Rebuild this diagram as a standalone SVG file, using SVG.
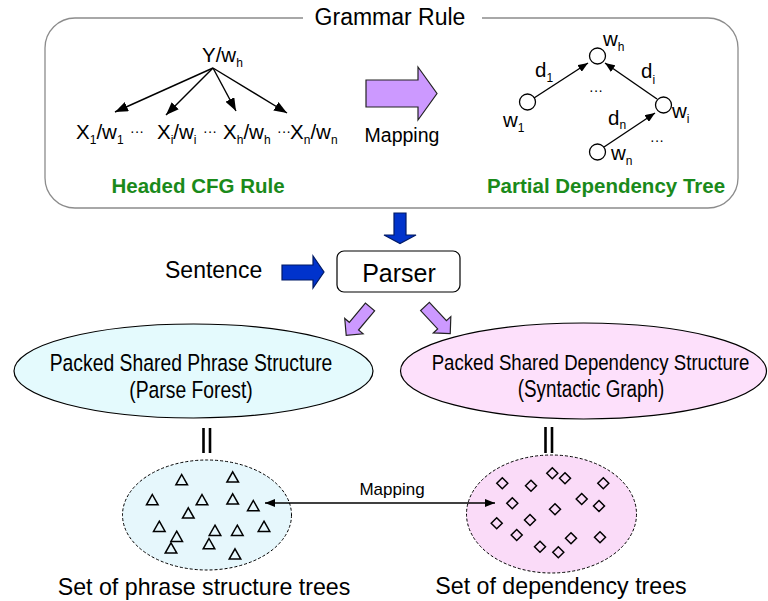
<svg xmlns="http://www.w3.org/2000/svg" width="768" height="601" viewBox="0 0 768 601">
<style>
.t{font-family:"Liberation Sans",Arial,Helvetica,sans-serif;fill:#000}
.g{font-family:"Liberation Sans",Arial,Helvetica,sans-serif;font-weight:bold;fill:#1a8a1a;font-size:20.5px}
.lbl{font-size:20.5px}
.sub{font-size:12px}
.dots{font-size:14px}
.ln{stroke:#000;stroke-width:1.4;fill:none}
.purple{fill:#cc99ff;stroke:#222;stroke-width:1.2}
.blue{fill:#0033cc;stroke:#001a66;stroke-width:1.2}
.tri{fill:none;stroke:#000;stroke-width:1.5}
</style>
<defs>
<marker id="big" markerWidth="13" markerHeight="10" refX="13" refY="5" orient="auto" markerUnits="userSpaceOnUse"><path d="M0,0 L13,5 L0,10 Z" fill="#000"/></marker>
<marker id="sm" markerWidth="10" markerHeight="8" refX="10" refY="4" orient="auto-start-reverse" markerUnits="userSpaceOnUse"><path d="M0,0 L10,4 L0,8 Z" fill="#000"/></marker>
<path id="tr" d="M0,-5.5 L5.8,4.8 L-5.8,4.8 Z" class="tri"/>
<path id="dm" d="M0,-5.5 L5.5,0 L0,5.5 L-5.5,0 Z" class="tri"/>
<path id="diag" d="M0,-6 H25 V-12 L37,0 L25,12 V6 H0 Z" class="purple"/>
</defs>

<g id="grammar-rule">
<path d="M303,18 H75 A30,30 0 0 0 45,48 V178 A30,30 0 0 0 75,208 H708 A30,30 0 0 0 738,178 V48 A30,30 0 0 0 708,18 H482" fill="none" stroke="#8c8c8c" stroke-width="1.3"/>
<text class="t" x="390" y="25" font-size="23" text-anchor="middle">Grammar Rule</text>
</g>

<g id="cfg-rule">
<text class="t lbl" x="202" y="62">Y/w<tspan class="sub" dy="5">h</tspan></text>
<text class="t lbl" x="76" y="139">X<tspan class="sub" dy="5">1</tspan><tspan dy="-5">/w</tspan><tspan class="sub" dy="5">1</tspan></text>
<text class="t dots" x="130" y="136">···</text>
<text class="t lbl" x="157" y="139">X<tspan class="sub" dy="5">i</tspan><tspan dy="-5">/w</tspan><tspan class="sub" dy="5">i</tspan></text>
<text class="t dots" x="203" y="136">···</text>
<text class="t lbl" x="223" y="139">X<tspan class="sub" dy="5">h</tspan><tspan dy="-5">/w</tspan><tspan class="sub" dy="5">h</tspan></text>
<text class="t dots" x="277" y="136">···</text>
<text class="t lbl" x="290" y="139">X<tspan class="sub" dy="5">n</tspan><tspan dy="-5">/w</tspan><tspan class="sub" dy="5">n</tspan></text>
<text class="g" x="198" y="193" text-anchor="middle">Headed CFG Rule</text>
</g>

<g id="mapping-arrow">
<path d="M366,80 H418 V67 L437,93.5 L418,120 V107 H366 Z" class="purple"/>
<text class="t" x="402" y="142" font-size="19.5" text-anchor="middle">Mapping</text>
</g>

<g id="dependency-tree">
<circle cx="597.5" cy="56" r="8" fill="#fff" stroke="#000" stroke-width="1.3"/>
<circle cx="527.5" cy="102" r="8" fill="#fff" stroke="#000" stroke-width="1.3"/>
<circle cx="663.5" cy="105" r="8" fill="#fff" stroke="#000" stroke-width="1.3"/>
<circle cx="597.5" cy="152" r="8" fill="#fff" stroke="#000" stroke-width="1.3"/>
<text class="t lbl" x="603" y="46">w<tspan class="sub" dy="5">h</tspan></text>
<text class="t lbl" x="535" y="77">d<tspan class="sub" dy="5">1</tspan></text>
<text class="t lbl" x="641" y="78">d<tspan class="sub" dy="6">i</tspan></text>
<text class="t dots" x="589" y="95">···</text>
<text class="t lbl" x="672" y="118">w<tspan class="sub" dy="5">i</tspan></text>
<text class="t lbl" x="503" y="127">w<tspan class="sub" dy="5">1</tspan></text>
<text class="t lbl" x="608" y="125">d<tspan class="sub" dy="4">n</tspan></text>
<text class="t dots" x="650" y="145">···</text>
<text class="t lbl" x="611" y="160">w<tspan class="sub" dy="5">n</tspan></text>
<text class="g" x="606" y="193" text-anchor="middle">Partial Dependency Tree</text>
</g>

<g id="sentence">
<text class="t" x="165" y="278" font-size="23">Sentence</text>
</g>

<g id="parser">
<rect x="337" y="251" width="123" height="41" rx="7" fill="#fff" stroke="#000" stroke-width="1.2"/>
<text class="t" x="399" y="281.5" font-size="25" text-anchor="middle">Parser</text>
</g>

<g id="phrase-structure">
<ellipse cx="193.5" cy="371" rx="179.5" ry="47" fill="#e4fafd" stroke="#000" stroke-width="1.2"/>
<text class="t" transform="translate(191,370.5) scale(0.83,1)" font-size="23.3" text-anchor="middle">Packed Shared Phrase Structure</text>
<text class="t" transform="translate(191,397.5) scale(0.83,1)" font-size="23.3" text-anchor="middle">(Parse Forest)</text>
</g>

<g id="dependency-structure">
<ellipse cx="583.5" cy="371" rx="183" ry="48" fill="#fde0fb" stroke="#000" stroke-width="1.2"/>
<text class="t" transform="translate(590.5,370) scale(0.81,1)" font-size="23" text-anchor="middle">Packed Shared Dependency Structure</text>
<text class="t" transform="translate(591,397) scale(0.82,1)" font-size="23" text-anchor="middle">(Syntactic Graph)</text>
</g>

<g id="phrase-trees">
<ellipse cx="207" cy="515" rx="84.5" ry="55" fill="#e6f7fc" stroke="#000" stroke-width="1" stroke-dasharray="3,2"/>
<use href="#tr" x="181.7" y="480"/>
<use href="#tr" x="232.7" y="477.3"/>
<use href="#tr" x="152.3" y="500"/>
<use href="#tr" x="202" y="500"/>
<use href="#tr" x="232.7" y="499.3"/>
<use href="#tr" x="253.3" y="506"/>
<use href="#tr" x="188.3" y="513.3"/>
<use href="#tr" x="159.3" y="526.7"/>
<use href="#tr" x="176.7" y="536.7"/>
<use href="#tr" x="215" y="530.7"/>
<use href="#tr" x="237.3" y="530.7"/>
<use href="#tr" x="264" y="526.7"/>
<use href="#tr" x="171" y="548.3"/>
<use href="#tr" x="209" y="544"/>
<use href="#tr" x="235" y="554.3"/>
<text class="t" x="204" y="595" font-size="23.2" text-anchor="middle">Set of phrase structure trees</text>
</g>

<g id="dependency-trees">
<ellipse cx="551.5" cy="514" rx="85" ry="59" fill="#fadbf8" stroke="#000" stroke-width="1" stroke-dasharray="3,2"/>
<use href="#dm" x="502.3" y="483.3"/>
<use href="#dm" x="531" y="485.7"/>
<use href="#dm" x="552.3" y="473.3"/>
<use href="#dm" x="565" y="478.3"/>
<use href="#dm" x="603.3" y="483.3"/>
<use href="#dm" x="512.3" y="503.3"/>
<use href="#dm" x="555" y="509.3"/>
<use href="#dm" x="581.7" y="499"/>
<use href="#dm" x="599" y="506"/>
<use href="#dm" x="496.7" y="523.3"/>
<use href="#dm" x="530" y="520"/>
<use href="#dm" x="516.7" y="535"/>
<use href="#dm" x="571" y="538.3"/>
<use href="#dm" x="600" y="537.3"/>
<use href="#dm" x="540" y="546.7"/>
<use href="#dm" x="558.3" y="552.3"/>
<text class="t" x="561" y="594" font-size="23.2" text-anchor="middle">Set of dependency trees</text>
</g>

<g id="connectors">
<line class="ln" x1="213" y1="68" x2="115" y2="112" marker-end="url(#big)"/>
<line class="ln" x1="213" y1="68" x2="166" y2="115" marker-end="url(#big)"/>
<line class="ln" x1="213" y1="68" x2="236" y2="111" marker-end="url(#big)"/>
<line class="ln" x1="213" y1="68" x2="287" y2="113" marker-end="url(#big)"/>
<line class="ln" x1="534" y1="98" x2="588" y2="63" marker-end="url(#sm)"/>
<line class="ln" x1="657" y1="99" x2="605" y2="63" marker-end="url(#sm)"/>
<line class="ln" x1="604" y1="147" x2="655" y2="113" marker-end="url(#sm)"/>
<path d="M394,213 H406 V235 H416 L400,243.5 L384,235 H394 Z" class="blue"/>
<path d="M282,265 H313 V256 L324,272 L313,288 V280 H282 Z" class="blue"/>
<use href="#diag" transform="translate(370,307) rotate(130)"/>
<use href="#diag" transform="translate(425,306.5) rotate(47)"/>
<line x1="203.5" y1="428" x2="203.5" y2="453" stroke="#000" stroke-width="2.6"/>
<line x1="210" y1="428" x2="210" y2="453" stroke="#000" stroke-width="2.6"/>
<line x1="545.5" y1="427" x2="545.5" y2="453" stroke="#000" stroke-width="2.6"/>
<line x1="552" y1="427" x2="552" y2="453" stroke="#000" stroke-width="2.6"/>
<line class="ln" x1="265" y1="503" x2="495" y2="503" marker-start="url(#sm)" marker-end="url(#sm)"/>
<text class="t" x="392" y="495" font-size="17" text-anchor="middle">Mapping</text>
</g>
</svg>
